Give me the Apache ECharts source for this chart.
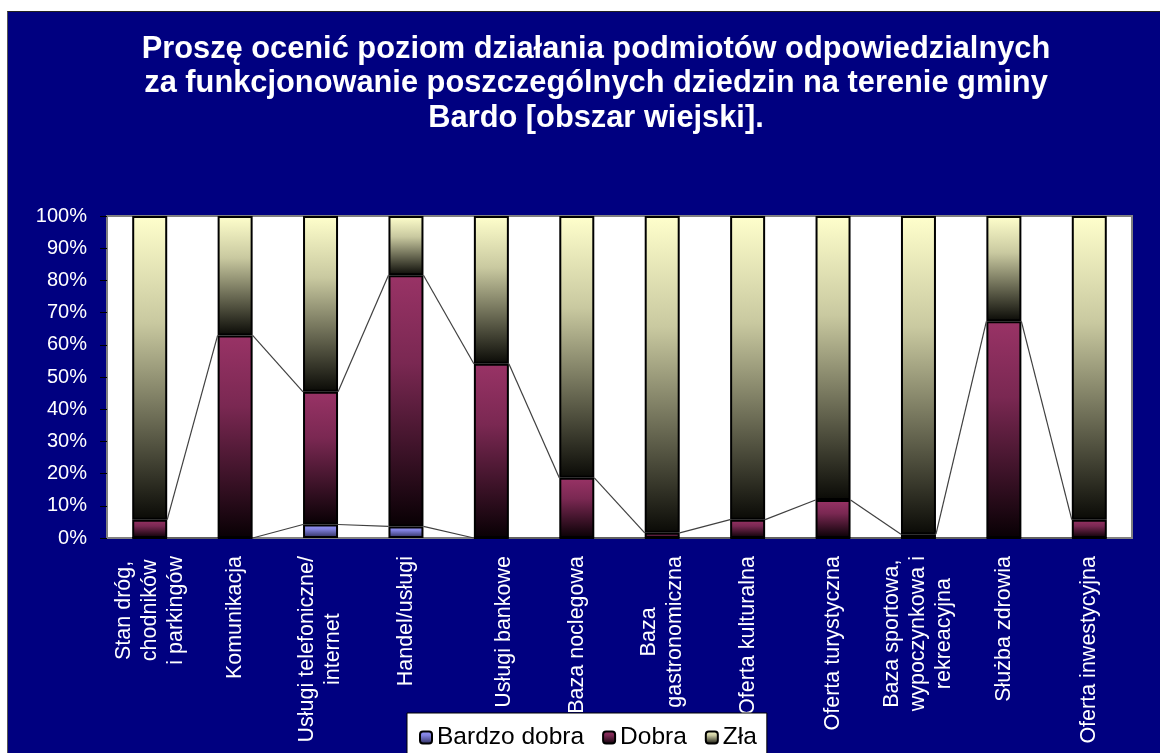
<!DOCTYPE html>
<html>
<head>
<meta charset="utf-8">
<script src="https://cdn.jsdelivr.net/npm/echarts@6/dist/echarts.min.js"></script>
<style>
  html, body { margin: 0; padding: 0; background: #ffffff; }
  #chart {
    position: absolute; left: 7px; top: 11px;
    width: 1153px; height: 742px;
    border-top: 1px solid #222222; border-left: 1px solid #555555;
  }
</style>
</head>
<body>
<div id="chart"></div>
<script>
  // kategorie (oś X)
  var categories = [
    'Stan dróg,\nchodników\ni parkingów',
    'Komunikacja',
    'Usługi telefoniczne/\ninternet',
    'Handel/usługi',
    '\nUsługi bankowe',
    'Baza noclegowa',
    'Baza\ngastronomiczna',
    'Oferta kulturalna',
    'Oferta turystyczna',
    'Baza sportowa,\nwypoczynkowa i\nrekreacyjna',
    'Służba zdrowia',
    'Oferta inwestycyjna'
  ];
  var seriesNames = ['Bardzo dobra', 'Dobra', 'Zła'];
  // udział odpowiedzi w %
  var bardzoDobra = [0, 0, 4.2, 3.6, 0, 0, 0, 0, 0, 0, 0, 0];
  var dobra = [5.7, 62.9, 41.2, 78.0, 54.1, 18.7, 1.6, 5.7, 11.8, 1.2, 67.3, 5.7];
  var zla = [94.3, 37.1, 54.6, 18.4, 45.9, 81.3, 98.4, 94.3, 88.2, 98.8, 32.7, 94.3];
  var yTicks = [0, 10, 20, 30, 40, 50, 60, 70, 80, 90, 100];

  var BAR_W = 35;
  var FONT = 'Arial, "Liberation Sans", sans-serif';

  function grad(top, mid, bottom) {
    return {
      type: 'linear', x: 0, y: 0, x2: 0, y2: 1,
      colorStops: [
        { offset: 0, color: top },
        { offset: 0.35, color: mid },
        { offset: 1, color: bottom }
      ]
    };
  }
  var colBD = grad('#9999ff', '#8080dd', '#2a2a55');
  var colD = grad('#993366', '#7a2852', '#080004');
  var colZ = grad('#ffffcc', '#c9c9a0', '#0a0a06');

  // linie serii: łączą szczyty kolejnych słupków
  var linkData = categories.map(function (c, i) {
    var j = Math.min(i + 1, categories.length - 1);
    return [i, bardzoDobra[i], bardzoDobra[i] + dobra[i], bardzoDobra[j], bardzoDobra[j] + dobra[j]];
  });

  var chart = echarts.init(document.getElementById('chart'));
  chart.setOption({
    backgroundColor: '#000080',
    animation: false,
    title: {
      text: 'Proszę ocenić poziom działania podmiotów odpowiedzialnych\nza funkcjonowanie poszczególnych dziedzin na terenie gminy\nBardo [obszar wiejski].',
      left: 588,
      top: 20,
      padding: 0,
      textAlign: 'center',
      textStyle: {
        color: '#ffffff', fontFamily: FONT, fontWeight: 'bold',
        fontSize: 30.8, lineHeight: 34.5
      }
    },
    legend: {
      data: seriesNames,
      left: 399,
      top: 701,
      padding: [12, 10, 30, 12],
      backgroundColor: '#ffffff',
      borderColor: '#000000',
      borderWidth: 1,
      borderRadius: 0,
      itemWidth: 12,
      itemHeight: 12,
      itemGap: 18,
      textStyle: { color: '#000000', fontFamily: FONT, fontSize: 24.5 }
    },
    grid: {
      left: 99, right: 29, top: 204, bottom: 216,
      show: true, backgroundColor: '#ffffff',
      borderColor: '#808080', borderWidth: 2
    },
    xAxis: {
      type: 'category',
      data: categories,
      axisLine: { lineStyle: { color: '#808080', width: 2 } },
      axisTick: { length: 6, lineStyle: { color: '#000000' } },
      axisLabel: {
        rotate: 90,
        margin: 18,
        interval: 0,
        color: '#ffffff',
        fontFamily: FONT,
        fontSize: 21.5,
        lineHeight: 26,
        formatter: function (v) {
          return v.split('\n').map(function (s) { return '{c|' + (s || ' ') + '}'; }).join('\n');
        },
        rich: { c: { align: 'center', color: '#ffffff', fontFamily: FONT, fontSize: 21.5, lineHeight: 26 } }
      }
    },
    yAxis: {
      type: 'value',
      min: yTicks[0],
      max: yTicks[yTicks.length - 1],
      interval: 10,
      splitLine: { show: false },
      axisLine: { show: true, lineStyle: { color: '#808080', width: 2 } },
      axisTick: { show: true, length: 7, lineStyle: { color: '#000000' } },
      axisLabel: {
        margin: 20, color: '#ffffff', fontFamily: FONT, fontSize: 20,
        formatter: '{value}%'
      }
    },
    series: [
      {
        name: seriesNames[0], type: 'bar', stack: 'all', barWidth: BAR_W,
        data: bardzoDobra,
        itemStyle: { color: colBD, borderColor: '#000000', borderWidth: 2 }
      },
      {
        name: seriesNames[1], type: 'bar', stack: 'all', barWidth: BAR_W,
        data: dobra,
        itemStyle: { color: colD, borderColor: '#000000', borderWidth: 2 }
      },
      {
        name: seriesNames[2], type: 'bar', stack: 'all', barWidth: BAR_W,
        data: zla,
        itemStyle: { color: colZ, borderColor: '#000000', borderWidth: 2 }
      },
      {
        name: 'linie', type: 'custom', z: 3,
        data: linkData,
        encode: { x: 0, y: [1, 2] },
        renderItem: function (params, api) {
          var i = api.value(0);
          if (i >= categories.length - 1) return;
          var half = BAR_W / 2;
          var children = [[1, 3], [2, 4]].map(function (p) {
            var a = api.coord([i, api.value(p[0])]);
            var b = api.coord([i + 1, api.value(p[1])]);
            return {
              type: 'line',
              shape: { x1: a[0] + half, y1: a[1], x2: b[0] - half, y2: b[1] },
              style: { stroke: '#404040', lineWidth: 1.2 }
            };
          });
          return { type: 'group', children: children };
        }
      }
    ]
  });
</script>
</body>
</html>
